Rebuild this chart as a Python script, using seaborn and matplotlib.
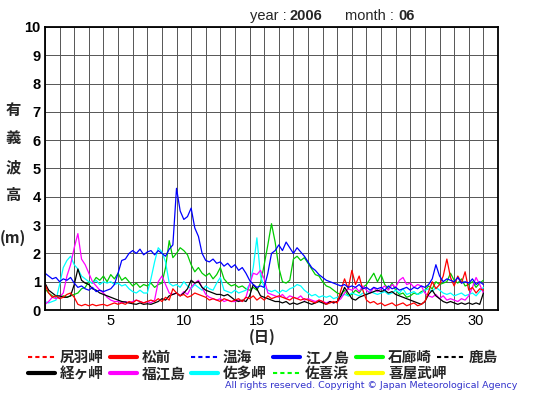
import numpy as np
import pandas as pd
import seaborn as sns
import matplotlib.pyplot as plt
from matplotlib.lines import Line2D

# 6-hourly significant wave height (m), June 2006, from day 1.0 to 31.0
matsumae = [0.9,0.6,0.45,0.5, 0.4,0.45,0.55,0.6, 0.45,0.2,0.15,0.2, 0.15,0.2,0.15,0.18,
            0.2,0.15,0.2,0.25, 0.2,0.25,0.2,0.3, 0.25,0.35,0.3,0.25, 0.3,0.35,0.3,0.4,
            0.3,0.45,0.35,0.75, 0.6,0.5,0.55,0.45, 0.5,0.6,0.55,0.5, 0.45,0.35,0.4,0.35,
            0.3,0.4,0.35,0.3, 0.35,0.4,0.3,0.45, 0.4,0.5,0.35,0.45, 0.35,0.5,0.4,0.45,
            0.5,0.45,0.4,0.35, 0.45,0.4,0.35,0.4, 0.35,0.3,0.25,0.35, 0.3,0.2,0.25,0.3,
            0.25,0.7,1.1,0.75, 1.4,0.9,1.2,0.7, 0.35,0.25,0.3,0.2, 0.25,0.15,0.2,0.25,
            0.15,0.2,0.25,0.15, 0.2,0.25,0.15,0.2, 0.3,0.65,1.0,0.75, 0.9,1.2,1.8,1.15,
            0.85,1.2,0.95,1.35, 0.7,0.8,0.6,0.75, 0.7]
enoshima = [1.3,1.2,1.1,1.15, 1.0,1.1,1.05,1.15, 0.95,0.8,0.85,0.75, 0.7,0.8,0.65,0.7,
            0.65,0.7,0.75,0.9, 1.3,1.75,1.8,2.0, 2.1,2.0,2.15,1.95, 2.05,2.1,1.95,2.1,
            2.0,1.9,2.15,2.3, 4.3,3.5,3.2,3.3, 3.6,2.9,2.6,2.0, 1.75,1.7,1.8,1.65,
            1.7,1.55,1.65,1.5, 1.6,1.4,1.5,1.3, 1.05,0.9,0.8,0.85, 0.8,1.3,2.0,2.1,
            2.3,2.1,2.4,2.2, 2.0,2.2,2.05,1.9, 1.7,1.5,1.4,1.25, 1.15,1.05,1.0,0.95,
            0.9,0.85,0.9,0.8, 0.85,0.8,0.9,0.75, 0.8,0.7,0.8,0.75, 0.8,0.7,0.85,0.75,
            0.8,0.7,0.75,0.8, 0.7,0.8,0.75,0.85, 0.8,0.9,1.1,1.6, 1.2,1.0,1.1,1.05,
            1.0,1.15,0.95,1.0, 0.95,1.1,0.9,1.0, 0.9]
irozaki = [0.75,0.6,0.5,0.45, 0.45,0.5,0.45,0.5, 0.55,0.6,0.75,0.8, 1.0,0.95,1.15,1.05,
           1.2,1.0,1.25,1.1, 1.3,1.05,1.15,1.0, 0.85,0.95,0.8,0.9, 0.85,0.95,0.8,0.9,
           0.95,1.5,2.45,1.85, 2.0,2.2,2.1,1.95, 1.6,1.35,1.5,1.3, 1.2,1.3,1.1,1.25,
           1.5,1.1,0.95,0.85, 0.9,0.8,0.85,0.75, 0.7,0.8,0.7,0.95, 1.6,2.3,3.05,2.4,
           1.5,1.0,0.95,1.05, 1.8,1.9,1.75,1.85, 1.65,1.45,1.25,1.2, 1.0,0.85,0.8,0.7,
           0.6,0.55,0.7,0.5, 0.55,0.7,0.6,0.8, 0.9,1.1,1.3,1.0, 1.25,0.9,0.75,0.95,
           0.7,0.55,0.6,0.45, 0.5,0.6,0.55,0.65, 0.7,0.85,0.75,1.0, 0.9,0.95,1.0,1.3,
           1.05,0.95,1.1,0.85, 0.9,1.0,0.8,0.95, 1.05]
kyogamisaki = [0.95,0.7,0.6,0.5, 0.5,0.45,0.45,0.5, 0.9,1.45,1.05,0.95, 0.9,0.75,0.7,0.6,
               0.55,0.5,0.45,0.4, 0.35,0.3,0.28,0.25, 0.22,0.2,0.25,0.2, 0.22,0.2,0.25,0.3,
               0.4,0.35,0.5,0.55, 0.6,0.5,0.6,0.75, 1.05,0.95,1.0,0.8, 0.7,0.65,0.6,0.55,
               0.55,0.5,0.55,0.45, 0.35,0.3,0.35,0.3, 0.5,0.9,0.75,0.5, 0.45,0.4,0.35,0.3,
               0.3,0.25,0.3,0.2, 0.25,0.2,0.25,0.3, 0.25,0.2,0.25,0.3, 0.25,0.2,0.3,0.25,
               0.3,0.5,0.8,0.6, 0.4,0.35,0.45,0.5, 0.55,0.6,0.65,0.7, 0.65,0.7,0.6,0.65,
               0.55,0.5,0.45,0.4, 0.35,0.3,0.25,0.2, 0.3,0.55,0.7,0.5, 0.4,0.3,0.25,0.3,
               0.25,0.2,0.25,0.2, 0.25,0.2,0.25,0.2, 0.6]
fukuejima = [0.2,0.3,0.45,0.4, 0.45,0.6,1.2,1.6, 2.2,2.7,1.8,1.6, 1.3,1.0,0.85,0.7,
             0.6,0.45,0.35,0.3, 0.3,0.25,0.3,0.25, 0.3,0.35,0.3,0.25, 0.3,0.25,0.35,1.0,
             1.2,0.9,0.6,0.55, 0.6,0.5,0.65,0.55, 0.8,0.95,1.05,0.8, 0.55,0.45,0.4,0.35,
             0.4,0.3,0.35,0.3, 0.3,0.35,0.3,0.45, 0.9,1.3,1.25,1.4, 1.1,0.6,0.55,0.5,
             0.45,0.55,0.4,0.5, 0.45,0.4,0.5,0.35, 0.4,0.35,0.3,0.35, 0.3,0.25,0.3,0.25,
             0.3,0.4,0.6,0.75, 0.7,0.8,0.65,0.85, 0.7,0.6,0.8,0.65, 0.75,0.85,0.7,0.9,
             0.8,1.05,1.15,0.9, 0.95,0.8,0.9,0.85, 0.6,0.5,0.45,0.55, 0.4,0.5,0.35,0.4,
             0.35,0.3,0.4,0.35, 0.5,0.8,1.15,0.9, 0.6]
satamisaki = [0.3,0.25,0.3,0.35, 0.9,1.5,1.75,1.9, 1.6,1.45,1.2,1.1, 1.0,0.95,1.05,0.9,
              1.0,0.95,1.0,0.9, 0.95,0.85,0.9,0.75, 0.65,0.6,0.7,0.6, 0.6,1.1,1.7,2.2,
              2.05,1.7,0.95,0.85, 0.9,0.8,1.0,0.85, 0.75,0.9,0.8,0.7, 0.85,0.75,0.7,0.95,
              1.15,0.7,0.65,0.6, 0.7,0.6,0.65,0.7, 0.9,1.5,2.55,1.2, 0.8,0.7,0.65,0.7,
              0.6,0.7,0.65,0.75, 0.8,0.9,0.85,0.7, 0.6,0.5,0.55,0.45, 0.5,0.45,0.5,0.4,
              0.45,0.5,0.55,0.5, 0.6,0.55,0.5,0.6, 0.55,0.65,0.6,0.55, 0.6,0.65,0.55,0.6,
              0.7,0.6,0.75,0.55, 0.6,0.65,0.55,0.6, 0.7,0.75,0.65,0.8, 0.7,0.6,0.55,0.6,
              0.5,0.55,0.6,0.5, 0.55,0.6,0.5,0.65, 0.8]

days = 1 + np.arange(len(enoshima)) / 4

series = {
    "石廊崎": irozaki,
    "佐多岬": satamisaki,
    "福江島": fukuejima,
    "経ヶ岬": kyogamisaki,
    "松前": matsumae,
    "江ノ島": enoshima,
}
palette = {"松前": "#ff0000", "江ノ島": "#0000ff", "石廊崎": "#00cc00",
           "経ヶ岬": "#000000", "福江島": "#ff00ff", "佐多岬": "#00ffff"}

# legend layout: rows of (label, colour, dotted)
legend_rows = [
    [("尻羽岬", "#ff0000", True), ("松前", "#ff0000", False), ("温海", "#0000ff", True),
     ("江ノ島", "#0000ff", False), ("石廊崎", "#00ff00", False), ("鹿島", "#000000", True)],
    [("経ヶ岬", "#000000", False), ("福江島", "#ff00ff", False), ("佐多岬", "#00ffff", False),
     ("佐喜浜", "#00ff00", True), ("喜屋武岬", "#ffff00", False)],
]

df = pd.concat([pd.DataFrame({"day": days, "height": v, "station": k})
                for k, v in series.items()], ignore_index=True)

sns.set_theme(style="white")
plt.rcParams['font.family'] = ['Liberation Sans', 'Noto Sans CJK JP', 'DejaVu Sans']

W, H = 555, 395
fig = plt.figure(figsize=(W / 100, H / 100), dpi=100)
ax = fig.add_axes([45/W, 85/H, 453/W, 283/H])

sns.lineplot(data=df, x="day", y="height", hue="station", palette=palette,
             linewidth=0.9, legend=False, ax=ax, estimator=None)

ax.set_xlim(1, 32)
ax.set_ylim(0, 10)
ax.set_xticks([d + 0.5 for d in range(5, 31, 5)])
ax.set_xticklabels([str(d) for d in range(5, 31, 5)], fontsize=10.5)
ax.set_xticks(range(1, 33), minor=True)
ax.set_yticks(range(0, 11))
ax.set_yticklabels([str(v) for v in range(0, 11)], fontsize=10.5, fontweight='bold')
ax.grid(False)
ax.grid(True, which='minor', axis='x', color='#555555', linewidth=0.7)
ax.grid(True, which='major', axis='y', color='#555555', linewidth=0.7)
ax.tick_params(which='both', length=0, pad=3, colors='black')
ax.set_xlabel("")
ax.set_ylabel("")
for s in ax.spines.values():
    s.set_color('black')
    s.set_linewidth(1.3)

def fx(px):
    return px / W

def fy(py):
    return 1 - py / H

# vertical axis title
for ch, py in zip(["有", "義", "波", "高", "(m)"], [110, 138, 167, 195, 238]):
    fig.text(fx(13), fy(py), ch, ha='center', va='center',
             fontsize=11, fontweight='bold', family=['Noto Sans CJK JP'])

fig.text(fx(262), fy(337), "(日)", ha='center', va='center', fontsize=11,
         fontweight='bold', family=['Noto Sans CJK JP'])

fig.text(fx(250), fy(16), "year : ", ha='left', va='center', fontsize=10.5)
fig.text(fx(290), fy(16), "2006", ha='left', va='center', fontsize=10.5, fontweight='bold')
fig.text(fx(345), fy(16), "month : ", ha='left', va='center', fontsize=10.5)
fig.text(fx(398), fy(16), "06", ha='left', va='center', fontsize=10.5, fontweight='bold')

col_x = [28, 110, 191, 273, 356, 437]
row_y = [357, 373]
for r, row in enumerate(legend_rows):
    for c, (label, color, dotted) in enumerate(row):
        x0 = col_x[c]
        y0 = row_y[r]
        fig.add_artist(Line2D([fx(x0), fx(x0 + 27)], [fy(y0), fy(y0)],
                              color=color, lw=1.5 if dotted else 3,
                              ls=(0, (2, 1.5)) if dotted else '-',
                              transform=fig.transFigure))
        fig.text(fx(x0 + 32), fy(y0), label, ha='left', va='center', fontsize=10.5,
                 fontweight='bold', family=['Noto Sans CJK JP'])

fig.text(fx(517), fy(386),
         "All rights reserved. Copyright \u00a9 Japan Meteorological Agency",
         ha='right', va='center', fontsize=6.8, color='#3333cc', family=['DejaVu Sans'])

fig.savefig("out.png", dpi=100)
